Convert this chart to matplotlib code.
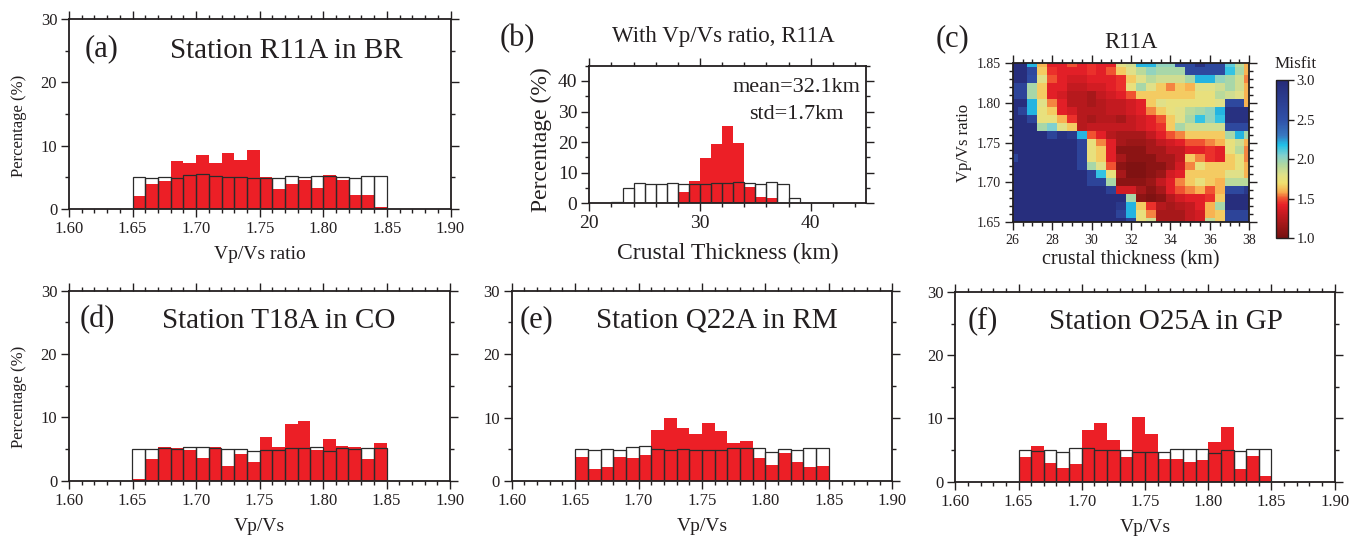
import numpy as np
import matplotlib
matplotlib.use("Agg")
import matplotlib.pyplot as plt
from matplotlib.colors import LinearSegmentedColormap
from matplotlib.ticker import MultipleLocator, FormatStrFormatter

plt.rcParams['font.family'] = 'serif'
plt.rcParams['font.serif'] = ['Liberation Serif', 'DejaVu Serif']

W, H = 1358, 537
INK = '#231f20'
RED = '#ec1f26'

# ---- data ----
vpvs_bins = [1.65, 1.66, 1.67, 1.68, 1.69, 1.70, 1.71, 1.72, 1.73, 1.74,
             1.75, 1.76, 1.77, 1.78, 1.79, 1.80, 1.81, 1.82, 1.83, 1.84]

r11a_prior = [5.0, 4.85, 5.1, 4.85, 5.4, 5.5, 5.15, 5.0, 5.1, 4.85,
              4.95, 4.85, 5.25, 5.1, 5.25, 5.25, 5.1, 4.95, 5.25, 5.25]
r11a_post = [2.05, 3.95, 4.4, 7.6, 7.25, 8.5, 7.25, 8.85, 7.75, 9.3,
             5.0, 3.15, 3.95, 4.6, 3.3, 5.35, 4.6, 2.2, 2.2, 0.3]

t18a_prior = [4.95, 4.95, 5.2, 5.0, 5.35, 5.4, 5.2, 4.95, 5.05, 4.75,
              4.8, 4.85, 5.2, 5.1, 5.25, 4.65, 5.1, 5.0, 5.1, 5.1]
t18a_post = [0.25, 3.4, 5.3, 5.1, 4.85, 3.6, 5.3, 2.3, 4.2, 2.95,
             6.95, 5.3, 9.0, 9.4, 4.85, 6.6, 5.45, 5.3, 3.4, 5.95]

q22a_prior = [5.0, 4.9, 5.0, 4.85, 5.35, 5.45, 5.0, 4.95, 5.0, 4.85,
              4.85, 4.85, 5.15, 5.15, 5.25, 4.6, 5.0, 4.9, 5.15, 5.15]
q22a_post = [3.8, 1.9, 2.2, 3.8, 3.65, 4.1, 8.05, 10.0, 8.35, 7.4,
             9.15, 7.9, 6.0, 6.3, 3.65, 2.55, 4.4, 3.0, 2.2, 2.35]

o25a_prior = [4.95, 4.85, 4.95, 4.75, 5.3, 5.4, 4.95, 4.95, 4.95, 4.7,
              4.75, 4.75, 5.15, 5.15, 5.15, 4.5, 4.95, 4.85, 5.15, 5.15]
o25a_post = [3.9, 5.7, 2.95, 2.15, 2.8, 8.2, 9.3, 6.6, 3.9, 10.25,
             7.55, 3.6, 3.6, 3.1, 3.45, 6.3, 8.7, 2.0, 4.1, 0.95]

thick_bins = [22, 23, 24, 25, 26, 27, 28, 29, 30, 31, 32, 33, 34, 35, 36, 37, 38]
thick_prior = [0.3, 5.1, 6.65, 6.2, 6.2, 6.75, 6.3, 6.4, 6.3, 6.5, 6.5, 6.9,
               6.5, 6.2, 6.9, 6.4, 1.75]
thick_post = [0, 0, 0, 0, 0, 0.2, 3.7, 7.3, 14.8, 19.4, 25.3, 19.7,
              5.35, 2.1, 1.75, 0.2, 0]

grid_thick = [26.0, 26.5, 27.0, 27.5, 28.0, 28.5, 29.0, 29.5, 30.0, 30.5, 31.0, 31.5,
              32.0, 32.5, 33.0, 33.5, 34.0, 34.5, 35.0, 35.5, 36.0, 36.5, 37.0, 37.5, 38.0]
grid_vpvs = [1.85, 1.84, 1.83, 1.82, 1.81, 1.80, 1.79, 1.78, 1.77, 1.76, 1.75,
             1.74, 1.73, 1.72, 1.71, 1.70, 1.69, 1.68, 1.67, 1.66, 1.65]
misfit = [
    [2.95, 2.95, 2.2, 1.6, 1.4, 1.4, 1.5, 1.4, 1.45, 1.4, 1.4, 1.8, 1.85, 2.2, 2.2, 2.0, 2.0, 2.6, 2.6, 2.9, 2.6, 2.6, 2.1, 1.9, 1.6],
    [2.95, 2.95, 2.6, 1.65, 1.45, 1.4, 1.4, 1.4, 1.45, 1.4, 1.5, 1.65, 1.8, 1.9, 2.0, 1.95, 1.95, 1.95, 2.6, 2.6, 2.6, 2.6, 2.15, 1.95, 1.6],
    [2.95, 2.95, 2.55, 1.8, 1.5, 1.4, 1.35, 1.35, 1.4, 1.4, 1.4, 1.45, 1.65, 1.8, 1.9, 1.85, 1.85, 1.85, 1.95, 2.2, 2.2, 2.0, 1.95, 1.85, 1.55],
    [2.65, 2.65, 1.95, 1.65, 1.4, 1.4, 1.3, 1.3, 1.35, 1.35, 1.4, 1.45, 1.75, 1.95, 1.8, 1.65, 1.55, 1.65, 1.6, 1.8, 1.8, 1.85, 1.95, 1.85, 1.6],
    [2.65, 2.65, 1.95, 1.65, 1.4, 1.35, 1.25, 1.25, 1.2, 1.3, 1.35, 1.4, 1.5, 1.65, 1.65, 1.65, 1.65, 1.65, 1.65, 1.75, 1.75, 1.9, 1.85, 1.8, 1.6],
    [2.95, 2.95, 2.2, 1.8, 1.55, 1.4, 1.25, 1.25, 1.2, 1.25, 1.3, 1.3, 1.35, 1.4, 1.65, 1.8, 1.75, 1.75, 1.75, 1.75, 1.75, 1.8, 2.6, 2.6, 1.6],
    [2.95, 2.65, 2.2, 1.75, 1.65, 1.4, 1.35, 1.25, 1.25, 1.25, 1.3, 1.3, 1.35, 1.4, 1.55, 1.65, 1.75, 1.8, 1.9, 1.95, 2.0, 2.2, 2.9, 2.9, 2.9],
    [2.95, 2.95, 2.65, 1.75, 1.75, 1.6, 1.45, 1.25, 1.2, 1.25, 1.25, 1.2, 1.3, 1.35, 1.4, 1.5, 1.65, 1.8, 1.95, 2.15, 2.0, 2.15, 2.9, 2.9, 2.9],
    [2.95, 2.95, 2.95, 1.95, 2.05, 1.8, 1.65, 1.25, 1.3, 1.3, 1.3, 1.3, 1.3, 1.35, 1.4, 1.45, 1.65, 1.95, 1.85, 1.85, 1.85, 1.85, 2.6, 2.6, 2.6],
    [2.95, 2.95, 2.95, 2.95, 2.65, 2.9, 2.8, 2.2, 1.5, 1.4, 1.25, 1.2, 1.2, 1.2, 1.3, 1.4, 1.5, 1.55, 1.65, 1.65, 1.65, 1.65, 1.95, 2.2, 1.95],
    [2.95, 2.95, 2.95, 2.95, 2.95, 2.95, 2.95, 2.65, 1.75, 1.55, 1.4, 1.2, 1.15, 1.15, 1.2, 1.3, 1.35, 1.4, 1.5, 1.5, 1.55, 1.6, 1.75, 1.85, 1.6],
    [2.95, 2.95, 2.95, 2.95, 2.95, 2.95, 2.95, 2.65, 1.75, 1.65, 1.4, 1.1, 1.1, 1.1, 1.2, 1.2, 1.3, 1.3, 1.4, 1.4, 1.45, 1.4, 1.75, 1.9, 1.55],
    [2.65, 2.95, 2.95, 2.95, 2.95, 2.95, 2.95, 2.65, 1.75, 1.65, 1.4, 1.2, 1.1, 1.1, 1.1, 1.2, 1.2, 1.3, 1.65, 1.55, 1.45, 1.4, 1.65, 1.75, 1.55],
    [2.95, 2.95, 2.95, 2.95, 2.95, 2.95, 2.95, 2.65, 1.95, 1.8, 1.5, 1.1, 1.05, 1.05, 1.1, 1.1, 1.2, 1.35, 1.55, 1.75, 1.65, 1.65, 1.65, 1.75, 1.6],
    [2.95, 2.95, 2.95, 2.95, 2.95, 2.95, 2.95, 2.95, 2.65, 2.15, 1.75, 1.2, 1.05, 1.05, 1.1, 1.15, 1.35, 1.4, 1.65, 1.65, 1.65, 1.65, 1.8, 1.8, 1.6],
    [2.95, 2.95, 2.95, 2.95, 2.95, 2.95, 2.95, 2.95, 2.65, 2.65, 1.95, 1.1, 1.1, 1.1, 1.15, 1.3, 1.4, 1.55, 1.65, 1.75, 1.65, 1.6, 1.9, 1.9, 1.9],
    [2.95, 2.95, 2.95, 2.95, 2.95, 2.95, 2.95, 2.95, 2.95, 2.95, 2.7, 1.35, 1.35, 1.2, 1.1, 1.2, 1.4, 1.5, 1.55, 1.6, 1.5, 1.6, 2.6, 2.6, 2.8],
    [2.95, 2.95, 2.95, 2.95, 2.95, 2.95, 2.95, 2.95, 2.95, 2.95, 2.95, 2.95, 1.95, 1.1, 1.05, 1.1, 1.25, 1.35, 1.4, 1.4, 1.45, 1.65, 2.95, 2.95, 2.95],
    [2.95, 2.95, 2.95, 2.95, 2.95, 2.95, 2.95, 2.95, 2.95, 2.95, 2.95, 2.8, 2.2, 1.65, 1.45, 1.25, 1.2, 1.25, 1.3, 1.4, 1.6, 1.95, 2.95, 2.95, 2.95],
    [2.95, 2.95, 2.95, 2.95, 2.95, 2.95, 2.95, 2.95, 2.95, 2.95, 2.95, 2.65, 2.2, 1.75, 1.55, 1.2, 1.2, 1.2, 1.3, 1.35, 1.6, 1.65, 2.65, 2.65, 2.65],
    [2.95, 2.95, 2.95, 2.95, 2.95, 2.95, 2.95, 2.95, 2.95, 2.95, 2.95, 2.95, 2.65, 1.75, 1.85, 1.2, 1.2, 1.2, 1.3, 1.35, 1.9, 1.65, 2.65, 2.65, 2.65],
]

# misfit colour scale (GMT-like)
cmap_nodes = [(1.0, '#741010'), (1.17, '#a01818'), (1.3, '#c41a20'), (1.42, '#e82028'),
              (1.5, '#f05030'), (1.59, '#f8b050'), (1.7, '#f0e070'), (1.8, '#e0e088'),
              (1.93, '#b0d8a0'), (2.05, '#80d0d0'), (2.18, '#20c0e8'), (2.3, '#3878c0'),
              (2.5, '#3050a8'), (3.0, '#262a78')]
misfit_cmap = LinearSegmentedColormap.from_list(
    'misfit', [((v - 1.0) / 2.0, c) for v, c in cmap_nodes])


def fig_rect(left, top, right, bottom):
    return [left / W, 1 - bottom / H, (right - left) / W, (bottom - top) / H]


def fpos(x, y):
    return x / W, 1 - y / H


def style_axes(ax, lab_size):
    for s in ax.spines.values():
        s.set_linewidth(1.3)
        s.set_color(INK)
    ax.tick_params(which='both', direction='out', top=True, right=True,
                   labeltop=False, labelright=False, colors=INK, width=1.0,
                   labelsize=lab_size, pad=3)
    ax.tick_params(which='major', length=5.5)
    ax.tick_params(which='minor', length=3)


def draw_hist(ax, bins, prior, post, width):
    ax.bar(bins, prior, width=width, align='edge', color='white', edgecolor='none', zorder=1)
    ax.bar(bins, post, width=width, align='edge', color=RED, edgecolor='none', zorder=2)
    ax.bar(bins, prior, width=width, align='edge', fill=False, edgecolor='#2b2b2b',
           linewidth=0.9, zorder=3)


def vpvs_panel(rect, prior, post, xlabel, ylabel):
    ax = fig.add_axes(rect)
    draw_hist(ax, vpvs_bins, prior, post, 0.01)
    ax.set_xlim(1.60, 1.90)
    ax.set_ylim(0, 30)
    ax.xaxis.set_major_locator(MultipleLocator(0.05))
    ax.xaxis.set_minor_locator(MultipleLocator(0.01))
    ax.xaxis.set_major_formatter(FormatStrFormatter('%.2f'))
    ax.yaxis.set_major_locator(MultipleLocator(10))
    ax.yaxis.set_minor_locator(MultipleLocator(5))
    style_axes(ax, 12)
    ax.set_xlabel(xlabel, fontsize=14, color=INK)
    ax.xaxis.set_label_coords(0.5, -0.195)
    if ylabel:
        ax.set_ylabel(ylabel, fontsize=12, color=INK)
        ax.yaxis.set_label_coords(-0.111, 0.44)
    return ax


fig = plt.figure(figsize=(W / 100, H / 100), dpi=100)

# (a)
vpvs_panel(fig_rect(69, 19, 450.5, 209), r11a_prior, r11a_post, 'Vp/Vs ratio', 'Percentage (%)')
fig.text(*fpos(85, 56.5), '(a)', fontsize=22, color=INK, va='baseline')
fig.text(*fpos(170, 57.5), 'Station R11A in BR', fontsize=21, color=INK, va='baseline')

# (b)
axb = fig.add_axes(fig_rect(589.3, 65.7, 866, 203.3))
draw_hist(axb, thick_bins, thick_prior, thick_post, 1.0)
axb.set_xlim(20, 45)
axb.set_ylim(0, 45)
axb.xaxis.set_major_locator(MultipleLocator(10))
axb.xaxis.set_minor_locator(MultipleLocator(2))
axb.yaxis.set_major_locator(MultipleLocator(10))
axb.yaxis.set_minor_locator(MultipleLocator(5))
style_axes(axb, 14)
axb.set_xlabel('Crustal Thickness (km)', fontsize=17, color=INK)
axb.xaxis.set_label_coords(0.5, -0.286)
axb.set_ylabel('Percentage (%)', fontsize=17, color=INK)
axb.yaxis.set_label_coords(-0.136, 0.46)
fig.text(*fpos(500, 46.7), '(b)', fontsize=22, color=INK, va='baseline')
fig.text(*fpos(723, 41.7), 'With Vp/Vs ratio, R11A', fontsize=16.5, color=INK,
         ha='center', va='baseline')
fig.text(*fpos(796, 92), 'mean=32.1km', fontsize=16, color=INK, ha='center', va='baseline')
fig.text(*fpos(796, 119), 'std=1.7km', fontsize=16, color=INK, ha='center', va='baseline')

# (c)
axc = fig.add_axes(fig_rect(1012.7, 63.3, 1249.3, 221.7))
mesh = axc.pcolormesh(grid_thick, grid_vpvs, np.array(misfit), cmap=misfit_cmap,
                      vmin=1.0, vmax=3.0, shading='nearest')
axc.set_xlim(26, 38)
axc.set_ylim(1.65, 1.85)
axc.xaxis.set_major_locator(MultipleLocator(2))
axc.xaxis.set_minor_locator(MultipleLocator(0.5))
axc.yaxis.set_major_locator(MultipleLocator(0.05))
axc.yaxis.set_minor_locator(MultipleLocator(0.01))
axc.yaxis.set_major_formatter(FormatStrFormatter('%.2f'))
style_axes(axc, 10)
axc.set_xlabel('crustal thickness (km)', fontsize=14.5, color=INK)
axc.xaxis.set_label_coords(0.5, -0.183)
axc.set_ylabel('Vp/Vs ratio', fontsize=12, color=INK)
axc.yaxis.set_label_coords(-0.173, 0.495)
fig.text(*fpos(936, 46.7), '(c)', fontsize=22, color=INK, va='baseline')
fig.text(*fpos(1131, 47.7), 'R11A', fontsize=16.5, color=INK, ha='center', va='baseline')

cax = fig.add_axes(fig_rect(1276, 80, 1288.3, 238.3))
cb = fig.colorbar(mesh, cax=cax)
cb.set_ticks([1.0, 1.5, 2.0, 2.5, 3.0])
cb.ax.yaxis.set_major_formatter(FormatStrFormatter('%.1f'))
cb.outline.set_linewidth(1.0)
cb.outline.set_edgecolor(INK)
cb.ax.tick_params(direction='out', length=4, width=1.0, labelsize=10.6, colors=INK, pad=2)
cb.ax.minorticks_off()
fig.text(*fpos(1296, 68.3), 'Misfit', fontsize=12.3, color=INK, ha='center', va='baseline')

# (d)
vpvs_panel(fig_rect(69, 290.7, 450, 480.7), t18a_prior, t18a_post, 'Vp/Vs', 'Percentage (%)')
fig.text(*fpos(80, 327), '(d)', fontsize=22, color=INK, va='baseline')
fig.text(*fpos(162, 327.5), 'Station T18A in CO', fontsize=21, color=INK, va='baseline')

# (e)
vpvs_panel(fig_rect(511.7, 290.7, 892.3, 481), q22a_prior, q22a_post, 'Vp/Vs', None)
fig.text(*fpos(520, 327), '(e)', fontsize=22, color=INK, va='baseline')
fig.text(*fpos(596, 327.5), 'Station Q22A in RM', fontsize=21, color=INK, va='baseline')

# (f)
vpvs_panel(fig_rect(955.3, 292, 1334.7, 481.7), o25a_prior, o25a_post, 'Vp/Vs', None)
fig.text(*fpos(968, 328.5), '(f)', fontsize=22, color=INK, va='baseline')
fig.text(*fpos(1049, 329), 'Station O25A in GP', fontsize=21, color=INK, va='baseline')

fig.savefig('out.png', dpi=100)
